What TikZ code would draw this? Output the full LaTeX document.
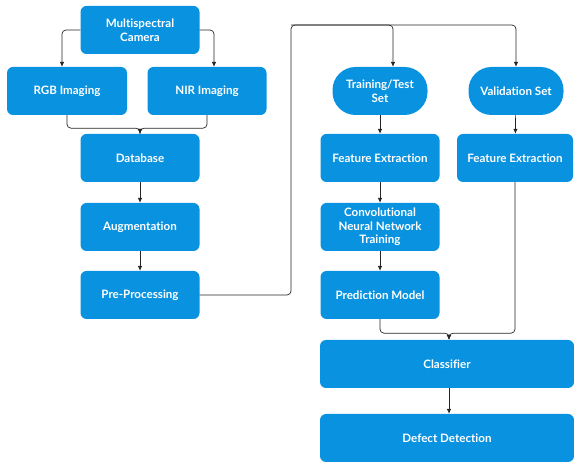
\documentclass[tikz,border=0pt]{standalone}
\usepackage{fontspec}
\setmainfont{Lato}[Ligatures=NoCommon]
\usetikzlibrary{arrows.meta}
\definecolor{boxblue}{RGB}{9,146,224}
\tikzset{
  blockbox/.style={fill=boxblue, rounded corners=6pt, minimum width=119pt,
    minimum height=48pt, inner sep=2pt, text=white, align=center,
    font=\fontsize{11.6}{13.5}\selectfont\bfseries},
  setbox/.style={blockbox, rounded corners=23pt, minimum width=95pt},
  link/.style={draw=black!85, line width=0.7pt, rounded corners=4pt,
    -{Latex[length=5pt,width=4.5pt]}}
}
\begin{document}
\begin{tikzpicture}[x=1pt,y=-1pt]
\useasboundingbox (0,0) rectangle (574,462);

% left column
\node[blockbox] (cam) at (140,30) {Multispectral\\Camera};
\node[blockbox, minimum width=120pt] (rgb) at (67,91) {RGB Imaging};
\node[blockbox] (nir) at (207,91) {NIR Imaging};
\node[blockbox] (db) at (140,158) {Database};
\node[blockbox] (aug) at (140,227) {Augmentation};
\node[blockbox] (pre) at (140,295) {Pre-Processing};

% right column
\node[setbox] (train) at (380,91) {Training/Test\\Set};
\node[setbox] (val) at (516,91) {Validation Set};
\node[blockbox] (fe1) at (380,158) {Feature Extraction};
\node[blockbox, minimum width=116pt] (fe2) at (515,158) {Feature Extraction};
\node[blockbox] (cnn) at (380,227) {Convolutional\\Neural Network\\Training};
\node[blockbox] (pred) at (380,295) {Prediction Model};
\node[blockbox, minimum width=254pt] (cls) at (447,364) {Classifier};
\node[blockbox, minimum width=254pt] (dd) at (447,438) {Defect Detection};

\coordinate (top) at (291,25);

% connectors
\draw[link] (cam.west) -| ([xshift=-5pt]rgb.north);
\draw[link] (cam.east) -| ([xshift=7pt]nir.north);
\draw[link] (rgb.south) -- ++(0,13) -| (db.north);
\draw[link] (nir.south) -- ++(0,13) -| (db.north);
\draw[link] (db) -- (aug);
\draw[link] (aug) -- (pre);
\draw[link] (pre.east) -| (top) -| ([xshift=13pt]train.north);
\draw[link] (top) -| (val.north);
\draw[link] (train) -- (fe1);
\draw[link] (val) -- (fe2);
\draw[link] (fe1) -- (cnn);
\draw[link] (cnn) -- (pred);
\draw[link] (pred.south) -- ++(0,14) -| ([xshift=2pt]cls.north);
\draw[link] (fe2.south) -- ++(0,151) -| ([xshift=2pt]cls.north);
\draw[link] ([xshift=2pt]cls.south) -- ([xshift=2pt]dd.north);

\end{tikzpicture}
\end{document}
